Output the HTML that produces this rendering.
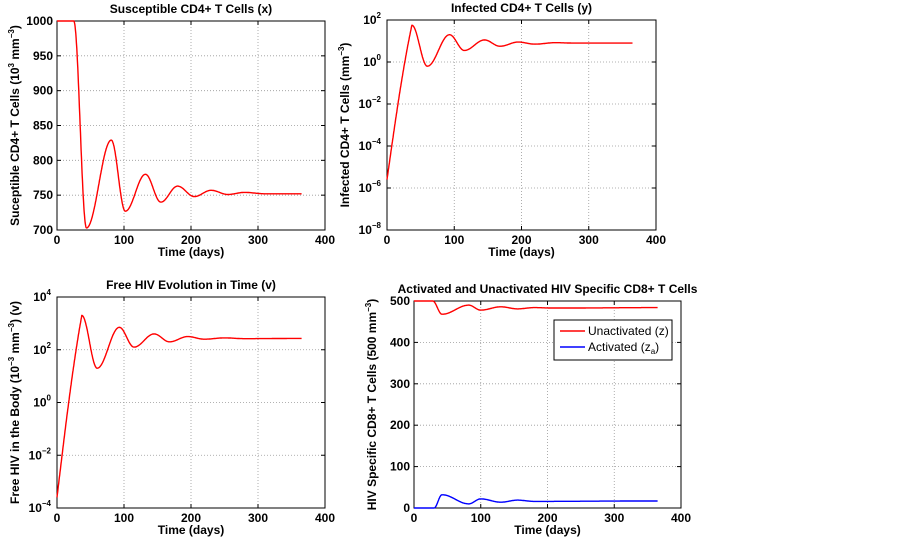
<!DOCTYPE html>
<html><head><meta charset="utf-8"><style>
body{margin:0;background:#fff}
svg{display:block;font-family:"Liberation Sans",Arial,sans-serif;font-weight:bold}
</style></head><body>
<svg id="s" width="902" height="543" viewBox="0 0 902 543" xmlns="http://www.w3.org/2000/svg"></svg>
<script>
const s=document.getElementById('s');let h='';
function ax(x0,x1,y0,y1,yt,title,ylab,ylog){
  for(let i=1;i<4;i++){const x=x0+(x1-x0)*i/4;h+=`<line x1="${x}" y1="${y0}" x2="${x}" y2="${y1}" stroke="#999" stroke-width="0.8" stroke-dasharray="1,2"/>`;}
  yt.forEach((t,i)=>{const y=y1-(y1-y0)*i/(yt.length-1);
    if(i>0&&i<yt.length-1)h+=`<line x1="${x0}" y1="${y}" x2="${x1}" y2="${y}" stroke="#999" stroke-width="0.8" stroke-dasharray="1,2"/>`;
    h+=`<line x1="${x0}" y1="${y}" x2="${x0+4}" y2="${y}" stroke="#000"/><line x1="${x1}" y1="${y}" x2="${x1-4}" y2="${y}" stroke="#000"/>`;
    if(ylog)h+=`<text x="${x0-6}" y="${y+4}" font-size="12" text-anchor="end">10<tspan font-size="8" dy="-6">${t}</tspan></text>`;
    else h+=`<text x="${x0-4}" y="${y+4}" font-size="12" text-anchor="end">${t}</text>`;});
  for(let i=0;i<5;i++){const x=x0+(x1-x0)*i/4;h+=`<line x1="${x}" y1="${y1}" x2="${x}" y2="${y1-4}" stroke="#000"/><line x1="${x}" y1="${y0}" x2="${x}" y2="${y0+4}" stroke="#000"/><text x="${x}" y="${y1+14}" font-size="12" text-anchor="middle">${i*100}</text>`;}
  h+=`<rect x="${x0}" y="${y0}" width="${x1-x0}" height="${y1-y0}" fill="none" stroke="#000" stroke-width="1"/>`;
  h+=`<text x="${(x0+x1)/2}" y="${y1+26}" font-size="12" text-anchor="middle">Time (days)</text>`;
  h+=`<text x="${(x0+x1)/2}" y="${y0-8}" font-size="12" text-anchor="middle">${title}</text>`;
  h+=`<text transform="translate(${x0-38},${(y0+y1)/2}) rotate(-90)" font-size="12" text-anchor="middle">${ylab}</text>`;
}
function curve(pts,x0,x1,y0,y1,vmin,vmax,col,linFirst){
  let d='';
  for(let t=0;t<=365;t+=0.5){
    let v=pts[pts.length-1][1];
    for(let k=0;k<pts.length-1;k++){const a=pts[k],b=pts[k+1];if(t>=a[0]&&t<=b[0]){let u=(t-a[0])/(b[0]-a[0]);
      if(linFirst&&k==0){u=0.75*u+0.25*Math.sin(u*Math.PI/2);}else u=(1-Math.cos(u*Math.PI))/2;
      v=a[1]+(b[1]-a[1])*u;break;}}
    const X=x0+(x1-x0)*t/400,Y=y1-(y1-y0)*(v-vmin)/(vmax-vmin);
    d+=(d?'L':'M')+X.toFixed(1)+','+Y.toFixed(1);}
  h+=`<path d="${d}" fill="none" stroke="${col}" stroke-width="1.4"/>`;
}
ax(57,325,21,230,[700,750,800,850,900,950,1000],'Susceptible CD4+ T Cells (x)','Suceptible CD4+ T Cells (10<tspan font-size="8" dy="-5">3</tspan><tspan dy="5"> mm</tspan><tspan font-size="8" dy="-5">−3</tspan><tspan dy="5">)</tspan>',false);
curve([[0,1000],[25,1000],[44,703],[81,829],[102,727],[132,780],[155,740],[180,763],[205,748],[230,757],[255,751],[280,754],[310,752],[365,752]],57,325,21,230,700,1000,'#f00');
ax(387,656,20,230,['−8','−6','−4','−2','0','2'],'Infected CD4+ T Cells (y)','Infected CD4+ T Cells (mm<tspan font-size="8" dy="-5">−3</tspan><tspan dy="5">)</tspan>',true);
curve([[0,-5.6],[37,1.75],[60,-0.2],[93,1.3],[115,0.55],[145,1.05],[168,0.75],[195,0.95],[220,0.85],[250,0.92],[280,0.9],[365,0.9]],387,656,20,230,-8,2,'#f00',true);
ax(57,325,297,508,['−4','−2','0','2','4'],'Free HIV Evolution in Time (v)','Free HIV in the Body (10<tspan font-size="8" dy="-5">−3</tspan><tspan dy="5"> mm</tspan><tspan font-size="8" dy="-5">−3</tspan><tspan dy="5">) (v)</tspan>',true);
curve([[0,-3.6],[37,3.3],[60,1.3],[93,2.85],[115,2.1],[145,2.6],[168,2.3],[195,2.5],[220,2.4],[250,2.45],[280,2.42],[365,2.43]],57,325,297,508,-4,4,'#f00',true);
ax(414,681,301,508,[0,100,200,300,400,500],'Activated and Unactivated HIV Specific CD8+ T Cells','HIV Specific CD8+ T Cells (500 mm<tspan font-size="8" dy="-5">−3</tspan><tspan dy="5">)</tspan>',false);
curve([[0,500],[28,500],[42,468],[82,490],[100,478],[130,486],[155,481],[180,484],[210,483],[365,484]],414,681,301,508,0,500,'#f00');
curve([[0,0],[30,0],[42,32],[82,10],[100,22],[130,14],[155,19],[180,16],[365,17]],414,681,301,508,0,500,'#00f');
h+=`<rect x="554" y="320" width="118" height="40" fill="#fff" stroke="#000"/>
<line x1="560" y1="331" x2="585" y2="331" stroke="#f00" stroke-width="1.4"/><text x="588" y="335" font-size="12" font-weight="normal">Unactivated (z)</text>
<line x1="560" y1="347" x2="585" y2="347" stroke="#00f" stroke-width="1.4"/><text x="588" y="351" font-size="12" font-weight="normal">Activated (z<tspan font-size="8" dy="3">a</tspan><tspan dy="-3">)</tspan></text>`;
s.innerHTML=h;
</script>
</body></html>
